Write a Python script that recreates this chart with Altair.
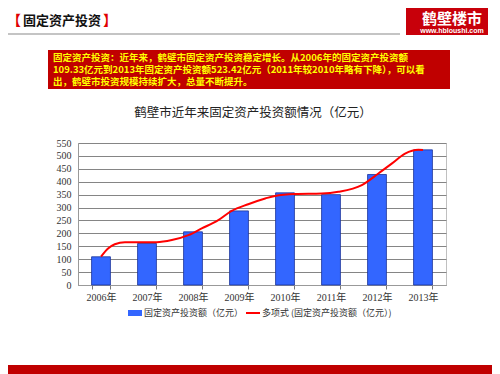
import altair as alt
import pandas as pd

years = ["2006年", "2007年", "2008年", "2009年", "2010年", "2011年", "2012年", "2013年"]
invest = [109.33, 161, 206, 287, 357, 350, 428, 523.42]
trend_t = [2006.0, 2006.16, 2006.3, 2006.52, 2006.88, 2007.21, 2007.54, 2007.9, 2008.19,
           2008.55, 2008.84, 2009.2, 2009.57, 2009.78, 2010.22, 2010.8, 2011.16, 2011.67,
           2012.03, 2012.32, 2012.61, 2012.9, 2013.0]
trend_v = [109.5, 142, 158, 166, 166, 166, 174, 193, 219, 251, 287, 313, 335, 345, 352,
           354, 361, 387, 432, 470, 509, 524, 523]
y_ticks = [0, 50, 100, 150, 200, 250, 300, 350, 400, 450, 500, 550]

title_text = "鹤壁市近年来固定资产投资额情况（亿元）"
box_lines = [
    "固定资产投资：近年来，鹤壁市固定资产投资稳定增长。从2006年的固定资产投资额",
    "109.33亿元到2013年固定资产投资额523.42亿元（2011年较2010年略有下降），可以看",
    "出，鹤壁市投资规模持续扩大，总量不断提升。",
]
legend_bar = "固定资产投资额（亿元）"
legend_line = "多项式 (固定资产投资额（亿元）)"

bars_df = pd.DataFrame({"year": years, "value": invest})
trend_df = pd.DataFrame({"t": trend_t, "v": trend_v})

OX, OY = 78, 143  # plot origin in page pixels
CJK = "Noto Sans CJK SC"
SERIF = "Liberation Serif, Noto Sans CJK SC"
one = alt.Data(values=[{"a": 1}])


def txt(s, px, py, size, color, weight="normal", font=CJK, align="left"):
    return alt.Chart(one).mark_text(
        text=s, align=align, baseline="middle", fontSize=size, color=color,
        fontWeight=weight, font=font
    ).encode(x=alt.value(px - OX), y=alt.value(py - OY))


def box(x1, y1, x2, y2, color):
    return alt.Chart(one).mark_rect(color=color).encode(
        x=alt.value(x1 - OX), x2=alt.value(x2 - OX),
        y=alt.value(y1 - OY), y2=alt.value(y2 - OY))


def hline(x1, x2, py, color, w):
    return alt.Chart(one).mark_rule(color=color, strokeWidth=w).encode(
        x=alt.value(x1 - OX), x2=alt.value(x2 - OX), y=alt.value(py - OY))


ydom = alt.Scale(domain=[0, 550], nice=False)
y_axis = alt.Axis(values=y_ticks, grid=True, gridColor="#858585", ticks=False,
                  domainColor="#999", labelFont=SERIF, labelFontSize=10,
                  labelColor="#333", labelPadding=7)

bars = alt.Chart(bars_df).mark_bar(color="#3366ff", stroke="#1a3399", strokeWidth=0.8).encode(
    x=alt.X("year:N", sort=years, title=None,
            scale=alt.Scale(paddingInner=0.59, paddingOuter=0.295),
            axis=alt.Axis(labelAngle=0, tickBand="extent", tickSize=4, tickColor="#777",
                          domainColor="#999", labelFont=SERIF, labelFontSize=10,
                          labelColor="#333", labelPadding=3, grid=False)),
    y=alt.Y("value:Q", title=None, scale=ydom, axis=y_axis),
)

trend = alt.Chart(trend_df).mark_line(color="#ff0000", strokeWidth=2, interpolate="monotone").encode(
    x=alt.X("t:Q", scale=alt.Scale(domain=[2005.5, 2013.5], nice=False, zero=False), axis=None),
    y=alt.Y("v:Q", title=None, scale=ydom, axis=y_axis),
)

deco = [
    # header
    txt("【", 21, 21, 14, "#e00000", "bold", align="right"),
    txt("固定资产投资", 23, 21, 13, "#111111", "bold"),
    txt("】", 103, 21, 14, "#e00000", "bold"),
    hline(5, 400, 34, "#b0b0b0", 1.5),
    # logo
    box(406, 2, 488, 35, "#c8000a"),
    txt("鹤壁楼市", 452, 18.5, 15, "#ffffff", "bold", align="center"),
    txt("www.hbloushi.com", 452, 30.5, 7, "#ffffff", "bold", font="Liberation Sans", align="center"),
    # red box
    box(48, 50, 450, 89, "#c00000"),
    txt(box_lines[0], 53, 58.3, 9.5, "#ffff00", "bold"),
    txt(box_lines[1], 53, 70, 9.5, "#ffff00", "bold"),
    txt(box_lines[2], 53, 81.7, 9.5, "#ffff00", "bold"),
    # title
    txt(title_text, 253, 113, 12.5, "#222222", align="center"),
    # legend
    box(128, 310, 142, 316, "#3366ff"),
    txt(legend_bar, 144, 313, 9, "#333333"),
    hline(246, 260, 313, "#ff0000", 2),
    txt(legend_line, 262, 313, 9, "#333333"),
    # bottom bar
    box(0, 365, 500, 374, "#c00000"),
]

chart = alt.layer(bars, trend, *deco).resolve_scale(x="independent").properties(
    width=368, height=142,
    padding={"left": 70, "top": 135, "right": 46, "bottom": 89},
    autosize=alt.AutoSizeParams(type="none"),
    background="#ffffff",
).configure_view(stroke="#c0c0c0")

chart.save("out.html", embed_options={"renderer": "svg", "actions": False})
